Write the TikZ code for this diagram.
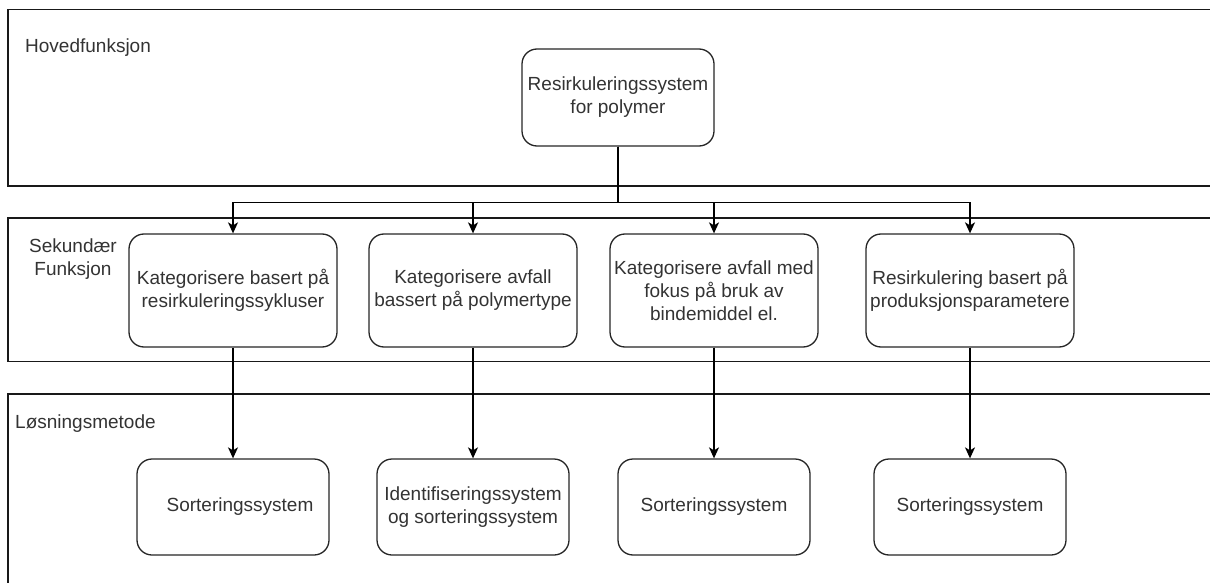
\documentclass[tikz,border=0pt]{standalone}
\usepackage{fontspec}
\setmainfont{Liberation Sans}
\usetikzlibrary{arrows.meta}
\begin{document}
\begin{tikzpicture}[x=1pt,y=-1pt,
  font=\fontsize{19}{23}\selectfont,
  box/.style={draw=black!85, fill=white, rounded corners=15pt, line width=1.3pt, align=center, text=black!80, inner sep=0pt},
  secbox/.style={box, minimum width=208pt, minimum height=113pt},
  solbox/.style={box, minimum width=192pt, minimum height=96pt},
  band/.style={draw=black!90, line width=1.4pt},
  lbl/.style={text=black!80, inner sep=0pt},
  arr/.style={draw=black, line width=1.3pt, -{Stealth[length=11pt,width=10pt,inset=3pt]}},
  link/.style={draw=black, line width=1.3pt}]
\useasboundingbox (0,0) rectangle (1210,583);
% bands
\draw[band] (8,9.5) rectangle (1240,186);
\draw[band] (8,218) rectangle (1240,361.5);
\draw[band] (8,394) rectangle (1240,620);
\node[lbl, anchor=west] (hf) at (25,48) {Hovedfunksjon};
\node[lbl, align=center] (sf) at (73,259) {Sekundær\\Funksjon};
\node[lbl, anchor=west] (lm) at (15,424) {Løsningsmetode};
% nodes
\node[box, minimum width=192pt, minimum height=97pt] (top) at (618,97.5) {Resirkuleringssystem\\for polymer};
\node[secbox] (s1) at (233,290.5) {Kategorisere basert på\\resirkuleringssykluser};
\node[secbox] (s2) at (473,290.5) {Kategorisere avfall\\bassert på polymertype};
\node[secbox] (s3) at (714,290.5) {Kategorisere avfall med\\fokus på bruk av\\bindemiddel el.};
\node[secbox] (s4) at (970,290.5) {Resirkulering basert på\\produksjonsparametere};
\node[solbox] (b1) at (233,507) {\hspace*{14pt}Sorteringssystem};
\node[solbox] (b2) at (473,507) {Identifiseringssystem\\og sorteringssystem};
\node[solbox] (b3) at (714,507) {Sorteringssystem};
\node[solbox] (b4) at (970,507) {Sorteringssystem};
% connectors
\draw[arr] (top.south) -- ++(0,56) -| (s1.north);
\draw[arr] (top.south) -- ++(0,56) -| (s2.north);
\draw[arr] (top.south) -- ++(0,56) -| (s3.north);
\draw[arr] (top.south) -- ++(0,56) -| (s4.north);
\draw[arr] (s1.south) -- (b1.north);
\draw[arr] (s2.south) -- (b2.north);
\draw[arr] (s3.south) -- (b3.north);
\draw[arr] (s4.south) -- (b4.north);
\end{tikzpicture}
\end{document}
